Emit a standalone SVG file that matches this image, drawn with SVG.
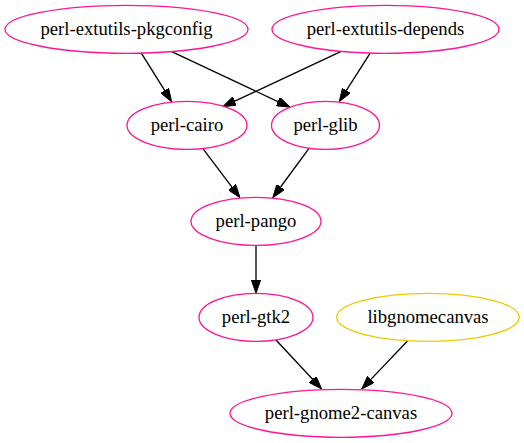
<svg xmlns="http://www.w3.org/2000/svg" width="524" height="443" viewBox="0 0 524 443">
<style>
.node ellipse{fill:none;stroke:#ff1493;stroke-width:1.33}
.node.ext ellipse{stroke:#eec900}
.node text{font-family:"Liberation Serif","Times New Roman",serif;font-size:18.67px;fill:#000;text-anchor:middle}
#edges path{fill:none;stroke:#000;stroke-width:1.33;marker-end:url(#arr)}
</style>
<defs>
<marker id="arr" markerUnits="userSpaceOnUse" viewBox="0 0 10 7" markerWidth="13.33" markerHeight="9.33" refX="0" refY="3.5" orient="auto">
<path d="M0,0 L10,3.5 L0,7 z" fill="#000" stroke="#000" stroke-width="0.7"/>
</marker>
</defs>
<rect width="524" height="443" fill="#fff"/>
<g id="edges">
<path d="M141,52.7 L164.6,90.4"/>
<path d="M171.7,51.7 L277.9,101.6"/>
<path d="M340.7,51.7 L234.8,101.1"/>
<path d="M370,53.3 L346.4,90.4"/>
<path d="M202.7,148.3 L232,187.1"/>
<path d="M309,148.3 L280.6,187"/>
<path d="M256,245.3 L256,280"/>
<path d="M276,340 L312.6,379.3"/>
<path d="M407.7,340.7 L370.9,379.4"/>
</g>
<g id="perl-extutils-pkgconfig" class="node"><ellipse cx="126.5" cy="29.3" rx="121.5" ry="24"/><text x="126.5" y="34.9">perl-extutils-pkgconfig</text></g>
<g id="perl-extutils-depends" class="node"><ellipse cx="385.5" cy="29.3" rx="113.5" ry="24"/><text x="385.5" y="34.9">perl-extutils-depends</text></g>
<g id="perl-cairo" class="node"><ellipse cx="187" cy="125.3" rx="60" ry="24"/><text x="187" y="130.9">perl-cairo</text></g>
<g id="perl-glib" class="node"><ellipse cx="325.5" cy="125.3" rx="54" ry="24"/><text x="325.5" y="130.9">perl-glib</text></g>
<g id="perl-pango" class="node"><ellipse cx="256" cy="221.3" rx="65" ry="24"/><text x="256" y="226.9">perl-pango</text></g>
<g id="perl-gtk2" class="node"><ellipse cx="256" cy="317.3" rx="57" ry="24"/><text x="256" y="322.9">perl-gtk2</text></g>
<g id="libgnomecanvas" class="node ext"><ellipse cx="428" cy="317.3" rx="91.3" ry="24"/><text x="428" y="322.9">libgnomecanvas</text></g>
<g id="perl-gnome2-canvas" class="node"><ellipse cx="341" cy="413.3" rx="111" ry="24"/><text x="341" y="418.9">perl-gnome2-canvas</text></g>
</svg>
